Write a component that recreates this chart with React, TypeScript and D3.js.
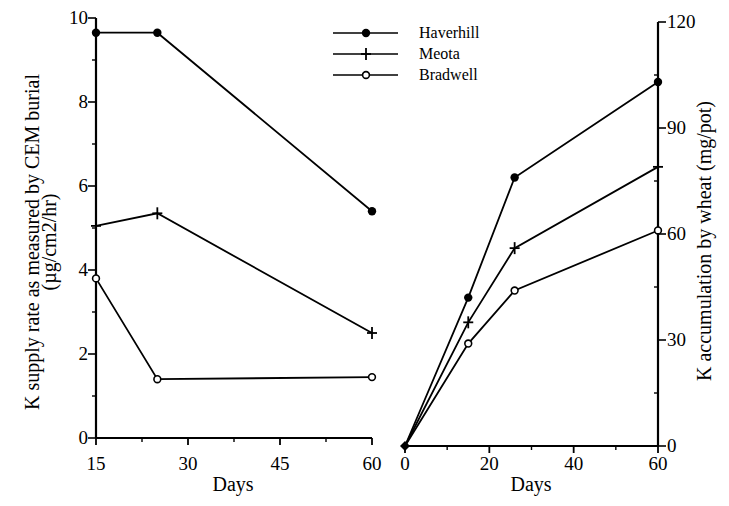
import React from "react";
import * as d3 from "d3";

const width = 729,
  height = 506;

// left panel: K supply rate (CEM burial)
const leftDays = [15, 25, 60];
const leftHaverhill = [9.65, 9.65, 5.4];
const leftMeota = [5.05, 5.35, 2.5];
const leftBradwell = [3.8, 1.4, 1.45];
const leftXTicks = [15, 30, 45, 60];
const leftYTicks = [0, 2, 4, 6, 8, 10];

// right panel: K accumulation by wheat
const rightDays = [0, 15, 26, 60];
const rightHaverhill = [0, 42, 76, 103];
const rightMeota = [0, 35, 56, 79];
const rightBradwell = [0, 29, 44, 61];
const rightXTicks = [0, 20, 40, 60];
const rightYTicks = [0, 30, 60, 90, 120];

const seriesNames = ["Haverhill", "Meota", "Bradwell"];
const markers = ["dot", "plus", "ring"];

const font = "'Liberation Serif', 'DejaVu Serif', serif";

function Marker({ kind, x, y }: { kind: string; x: number; y: number }) {
  if (kind === "dot") return <circle cx={x} cy={y} r={4.2} fill="#000" />;
  if (kind === "ring")
    return <circle cx={x} cy={y} r={3.4} fill="#fff" stroke="#000" strokeWidth={1.6} />;
  return (
    <g stroke="#000" strokeWidth={1.8}>
      <line x1={x - 5} x2={x + 5} y1={y} y2={y} />
      <line x1={x} x2={x} y1={y - 6} y2={y + 6} />
    </g>
  );
}

export default function App() {
  // scales
  const xL = d3.scaleLinear().domain([15, 60]).range([96, 372]);
  const yL = d3.scaleLinear().domain([0, 10]).range([438, 18]);
  const xR = d3.scaleLinear().domain([0, 60]).range([405, 658]);
  const yR = d3.scaleLinear().domain([0, 120]).range([446, 22]);

  const lineL = d3
    .line<number>()
    .x((_, i) => xL(leftDays[i]))
    .y(d => yL(d));
  const lineR = d3
    .line<number>()
    .x((_, i) => xR(rightDays[i]))
    .y(d => yR(d));

  const leftSeries = [leftHaverhill, leftMeota, leftBradwell];
  const rightSeries = [rightHaverhill, rightMeota, rightBradwell];

  const leftMinorY = d3.range(1, 10, 2);
  const leftMinorX = [22.5, 37.5, 52.5];
  const rightMinorY = d3.range(15, 120, 30);
  const rightMinorX = [10, 30, 50];

  return (
    <svg
      width={width}
      height={height}
      style={{ position: "absolute", left: 0, top: 0, background: "#fff" }}
      fontFamily={font}
    >
      {/* left panel axes */}
      <g stroke="#000" strokeWidth={2.2} fill="none">
        <line x1={xL(15)} x2={xL(15)} y1={yL(10)} y2={yL(0)} />
        <line x1={xL(15)} x2={xL(60)} y1={yL(0)} y2={yL(0)} />
        {leftYTicks.map(t => (
          <line key={t} x1={xL(15) - 8} x2={xL(15)} y1={yL(t)} y2={yL(t)} strokeWidth={1.6} />
        ))}
        {leftMinorY.map(t => (
          <line key={t} x1={xL(15) - 4} x2={xL(15)} y1={yL(t)} y2={yL(t)} strokeWidth={1.4} />
        ))}
        {leftXTicks.map(t => (
          <line key={t} x1={xL(t)} x2={xL(t)} y1={yL(0)} y2={yL(0) + 7} strokeWidth={1.8} />
        ))}
        {leftMinorX.map(t => (
          <line key={t} x1={xL(t)} x2={xL(t)} y1={yL(0)} y2={yL(0) + 4} strokeWidth={1.4} />
        ))}
      </g>
      <g fontSize={19} textAnchor="end">
        {leftYTicks.map(t => (
          <text key={t} x={xL(15) - 8} y={yL(t) + 6}>
            {t}
          </text>
        ))}
      </g>
      <g fontSize={19} textAnchor="middle">
        {leftXTicks.map(t => (
          <text key={t} x={xL(t)} y={470}>
            {t}
          </text>
        ))}
        <text x={233} y={491} fontSize={20}>
          Days
        </text>
      </g>
      <g fontSize={20} textAnchor="middle">
        <text transform="translate(39,242) rotate(-90)">K supply rate as measured by CEM burial</text>
        <text transform="translate(56,242) rotate(-90)">(µg/cm2/hr)</text>
      </g>

      {/* left panel lines */}
      {leftSeries.map((s, k) => (
        <g key={k}>
          <path d={lineL(s) || ""} fill="none" stroke="#000" strokeWidth={1.8} />
          {s.map((v, i) => (
            <Marker key={i} kind={markers[k]} x={xL(leftDays[i])} y={yL(v)} />
          ))}
        </g>
      ))}

      {/* right panel axes */}
      <g stroke="#000" strokeWidth={2.2} fill="none">
        <line x1={xR(60)} x2={xR(60)} y1={yR(120)} y2={yR(0)} />
        <line x1={xR(0)} x2={xR(60)} y1={yR(0)} y2={yR(0)} />
        {rightYTicks.map(t => (
          <line key={t} x1={xR(60)} x2={xR(60) + 8} y1={yR(t)} y2={yR(t)} strokeWidth={1.6} />
        ))}
        {rightMinorY.map(t => (
          <line key={t} x1={xR(60) - 4} x2={xR(60)} y1={yR(t)} y2={yR(t)} strokeWidth={1.4} />
        ))}
        {rightXTicks.map(t => (
          <line key={t} x1={xR(t)} x2={xR(t)} y1={yR(0)} y2={yR(0) + 7} strokeWidth={1.8} />
        ))}
        {rightMinorX.map(t => (
          <line key={t} x1={xR(t)} x2={xR(t)} y1={yR(0)} y2={yR(0) + 4} strokeWidth={1.4} />
        ))}
      </g>
      <g fontSize={19} textAnchor="start">
        {rightYTicks.map(t => (
          <text key={t} x={xR(60) + 9} y={yR(t) + 6}>
            {t}
          </text>
        ))}
      </g>
      <g fontSize={19} textAnchor="middle">
        {rightXTicks.map(t => (
          <text key={t} x={xR(t)} y={470}>
            {t}
          </text>
        ))}
        <text x={531} y={491} fontSize={20}>
          Days
        </text>
      </g>
      <text transform="translate(711,241) rotate(-90)" fontSize={20} textAnchor="middle">
        K accumulation by wheat (mg/pot)
      </text>

      {/* right panel lines */}
      {rightSeries.map((s, k) => (
        <g key={k}>
          <path d={lineR(s) || ""} fill="none" stroke="#000" strokeWidth={1.8} />
          {s.map((v, i) =>
            i === 0 ? null : <Marker key={i} kind={markers[k]} x={xR(rightDays[i])} y={yR(v)} />
          )}
        </g>
      ))}
      <path
        d={`M${xR(0) - 5},${yR(0)} L${xR(0)},${yR(0) - 5} L${xR(0) + 5},${yR(0)} L${xR(0)},${yR(0) + 5}Z`}
        fill="#000"
      />

      {/* legend */}
      {seriesNames.map((name, k) => {
        const y = 33 + k * 21;
        return (
          <g key={name}>
            <line x1={333} x2={398} y1={y} y2={y} stroke="#000" strokeWidth={1.6} />
            <Marker kind={markers[k]} x={366} y={y} />
            <text x={419} y={y + 5} fontSize={16}>
              {name}
            </text>
          </g>
        );
      })}
    </svg>
  );
}
